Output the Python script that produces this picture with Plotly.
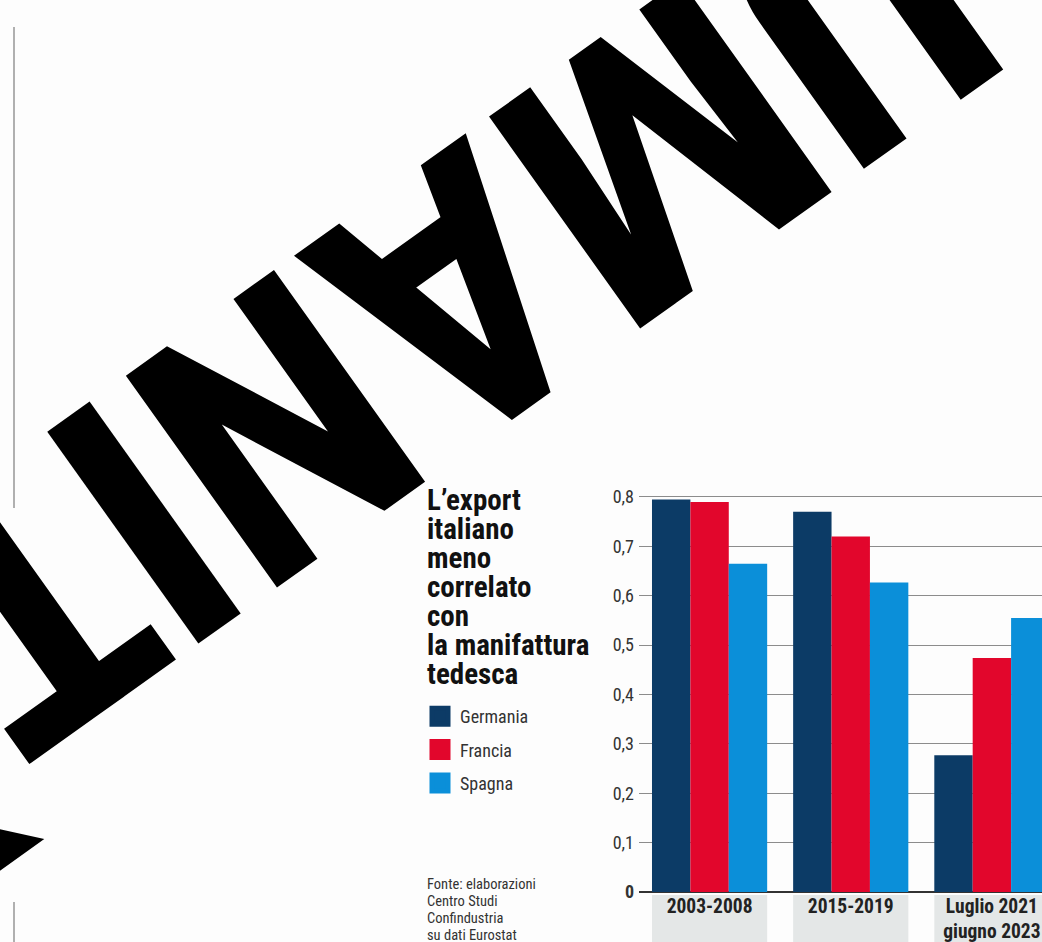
import plotly.graph_objects as go

# ---------------- data ----------------
categories = ["2003-2008", "2015-2019", "Luglio 2021 - giugno 2023"]
category_labels = ["2003-2008", "2015-2019", "Luglio 2021<br>giugno 2023"]
series_names = ["Germania", "Francia", "Spagna"]
germania = [0.795, 0.770, 0.277]
francia = [0.790, 0.720, 0.474]
spagna = [0.665, 0.627, 0.555]
y_tick_values = [0, 0.1, 0.2, 0.3, 0.4, 0.5, 0.6, 0.7, 0.8]
y_tick_labels = ["<b>0</b>", "0,1", "0,2", "0,3", "0,4", "0,5", "0,6", "0,7", "0,8"]
title_lines = ["L’export", "italiano", "meno", "correlato", "con", "la manifattura", "tedesca"]
source_lines = ["Fonte: elaborazioni", "Centro Studi", "Confindustria", "su dati Eurostat"]
big_word = "UMANITÀ"

# ---------------- style ----------------
colors = ["#0c3b66", "#e2062c", "#0b8fd9"]
NARROW = "Roboto Condensed, Open Sans, sans-serif"
W, H = 1042, 942
Y_MAX = 0.806
PX_PER_UNIT = 494
PLOT_L, PLOT_R, PLOT_B = 639, 1042, 892
PLOT_T = round(PLOT_B - Y_MAX * PX_PER_UNIT)


def px_x(px):
    return (px - PLOT_L) / (PLOT_R - PLOT_L)


def px_y(py):
    return (PLOT_B - py) / (PLOT_B - PLOT_T)


def fnt(size, color, weight=400):
    return dict(family=NARROW, size=size, color=color, weight=weight)


fig = go.Figure()
for name, vals, col in zip(series_names, [germania, francia, spagna], colors):
    fig.add_trace(go.Bar(x=categories, y=vals, name=name, marker=dict(color=col, line=dict(width=0)),
                         showlegend=False, hoverinfo="skip"))
# legend entries (larger swatches)
for name, col in zip(series_names, colors):
    fig.add_trace(go.Scatter(x=[None], y=[None], mode="markers", name=name, legendgroup=name,
                             marker=dict(symbol="square", size=16, color=col, line=dict(color=col, width=5))))

# grey boxes behind category labels
group_half = (1 - 0.184) / 2
shapes = []
for i, _ in enumerate(categories):
    shapes.append(dict(type="rect", xref="x", yref="paper", x0=i - group_half, x1=i + group_half,
                       y0=px_y(H + 2), y1=px_y(PLOT_B + 3), fillcolor="#e4e7e7", line=dict(width=0),
                       layer="below"))
# thin page rule at left
shapes.append(dict(type="line", xref="paper", yref="paper", x0=px_x(14), x1=px_x(14), y0=px_y(27), y1=px_y(508),
                   line=dict(color="#b0b0b0", width=2)))
shapes.append(dict(type="line", xref="paper", yref="paper", x0=px_x(14), x1=px_x(14), y0=px_y(902), y1=px_y(H + 2),
                   line=dict(color="#b0b0b0", width=2)))

annotations = []
# big rotated background lettering
annotations.append(dict(text=big_word, xref="paper", yref="paper", x=px_x(362), y=px_y(362),
                        xanchor="center", yanchor="middle", showarrow=False, textangle=144.5,
                        font=fnt(366, "#000000", 700)))
# title lines
for k, line in enumerate(title_lines):
    annotations.append(dict(text=line, xref="paper", yref="paper", x=px_x(425), y=px_y(500 + 29 * k),
                            xanchor="left", yanchor="middle", showarrow=False,
                            font=fnt(29, "#111111", 700)))
# source lines
for k, line in enumerate(source_lines):
    annotations.append(dict(text=line, xref="paper", yref="paper", x=px_x(425), y=px_y(884 + 17 * k),
                            xanchor="left", yanchor="middle", showarrow=False,
                            font=fnt(14.5, "#333333")))

fig.update_layout(
    width=W, height=H,
    margin=dict(l=PLOT_L, r=W - PLOT_R, t=PLOT_T, b=H - PLOT_B, pad=0, autoexpand=False),
    paper_bgcolor="#fdfdfd", plot_bgcolor="#fdfdfd",
    barmode="group", bargap=0.184, bargroupgap=0,
    showlegend=True,
    legend=dict(x=px_x(420), y=px_y(698), xanchor="left", yanchor="top", traceorder="grouped",
                tracegroupgap=7, font=fnt(18, "#333333"),
                bgcolor="rgba(0,0,0,0)", itemclick=False, itemdoubleclick=False),
    xaxis=dict(type="category", range=[-0.5, 2.355], showgrid=False, zeroline=False, showline=False,
               ticks="", tickvals=categories, ticktext=category_labels, automargin=False,
               tickfont=fnt(19.5, "#222222", 700)),
    yaxis=dict(range=[0, Y_MAX], tickvals=y_tick_values, ticktext=y_tick_labels, automargin=False,
               showgrid=True, gridcolor="#8c8c8c", gridwidth=1.3,
               zeroline=True, zerolinecolor="#333333", zerolinewidth=2.2, showline=False,
               ticks="", ticklabelstandoff=4,
               tickfont=fnt(18, "#333333")),
    shapes=shapes, annotations=annotations,
)

fig.write_html("out.html", config={"displayModeBar": False},
               post_script="document.body.style.margin='0px';")
